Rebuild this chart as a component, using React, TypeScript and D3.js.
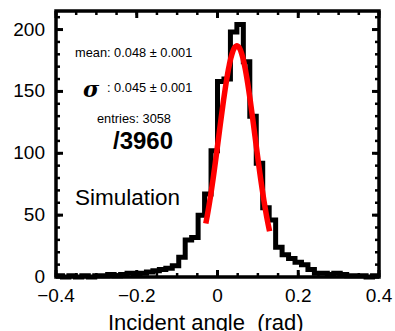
import React from "react";
import * as d3 from "d3";

// histogram bins (rad), counts
const binStart = -0.4;
const binWidth = 0.016;
const counts = [
  1, 0, 1, 0, 1, 0, 1, 1, 2, 1,
  2, 3, 2, 3, 4, 5, 6, 7, 9, 16,
  30, 32, 50, 67, 102, 158, 160, 198, 204, 174,
  130, 92, 56, 46, 24, 18, 15, 12, 10, 6,
  3, 3, 2, 3, 2, 1, 1, 1, 0, 1,
];

// gaussian fit
const fitMean = 0.048;
const fitSigma = 0.045;
const fitAmp = 187;
const fitRange = [-0.029, 0.13];

const xTicks = [-0.4, -0.2, 0, 0.2, 0.4];
const xTickLabels = ["\u22120.4", "\u22120.2", "0", "0.2", "0.4"];
const yTicks = [0, 50, 100, 150, 200];

const W = 395;
const H = 331;
const FONT = "'Liberation Sans', Arial, Helvetica, sans-serif";

const App = () => {
  const x = d3.scaleLinear().domain([-0.4, 0.4]).range([56, 379]);
  const y = d3.scaleLinear().domain([0, 215]).range([277, 11]);

  const stepPts: [number, number][] = counts.map((c, i) => [binStart + i * binWidth, c]);
  stepPts.push([binStart + counts.length * binWidth, counts[counts.length - 1]]);
  const histPath = d3
    .line<[number, number]>()
    .x((d) => x(d[0]))
    .y((d) => y(d[1]))
    .curve(d3.curveStepAfter)(stepPts);

  const fitX = d3.range(fitRange[0], fitRange[1] + 0.0001, 0.002);
  const fitPath = d3
    .line<number>()
    .x((d) => x(d))
    .y((d) => y(fitAmp * Math.exp(-((d - fitMean) ** 2) / (2 * fitSigma * fitSigma))))
    .curve(d3.curveBasis)(fitX);

  const xMinor = d3.range(-0.4, 0.4001, 0.05);
  const yMinor = d3.range(0, 215, 10);

  return (
    <svg width={W} height={H} style={{ position: "absolute", left: 0, top: 0 }} fontFamily={FONT}>
      <rect width={W} height={H} fill="#fff" />

      <path d={histPath ?? ""} fill="none" stroke="#000" strokeWidth={5} strokeLinejoin="miter" />
      <path d={fitPath ?? ""} fill="none" stroke="#ff0000" strokeWidth={5.5} strokeLinecap="butt" />

      {/* minor ticks */}
      {xMinor.map((v, i) => (
        <g key={"xm" + i} stroke="#000" strokeWidth={2.5}>
          <line x1={x(v)} x2={x(v)} y1={277} y2={273} />
          <line x1={x(v)} x2={x(v)} y1={11} y2={15} />
        </g>
      ))}
      {yMinor.map((v, i) => (
        <g key={"ym" + i} stroke="#000" strokeWidth={2.5}>
          <line x1={56} x2={60} y1={y(v)} y2={y(v)} />
          <line x1={379} x2={375} y1={y(v)} y2={y(v)} />
        </g>
      ))}
      {/* major ticks */}
      {xTicks.map((v, i) => (
        <g key={"xM" + i} stroke="#000" strokeWidth={3}>
          <line x1={x(v)} x2={x(v)} y1={277} y2={270} />
          <line x1={x(v)} x2={x(v)} y1={11} y2={18} />
        </g>
      ))}
      {yTicks.map((v, i) => (
        <g key={"yM" + i} stroke="#000" strokeWidth={3}>
          <line x1={56} x2={63} y1={y(v)} y2={y(v)} />
          <line x1={379} x2={372} y1={y(v)} y2={y(v)} />
        </g>
      ))}

      <rect x={56} y={11} width={323} height={266} fill="none" stroke="#000" strokeWidth={3.5} />

      {xTicks.map((v, i) => (
        <text key={"xl" + i} x={x(v)} y={302} textAnchor="middle" fontSize={19}>
          {xTickLabels[i]}
        </text>
      ))}
      {yTicks.map((v, i) => (
        <text key={"yl" + i} x={45} y={y(v) + 6} textAnchor="end" fontSize={19}>
          {v}
        </text>
      ))}

      <text x={108} y={330} fontSize={22} style={{ whiteSpace: "pre" }}>
        {"Incident angle  (rad)"}
      </text>

      <text x={75} y={57} fontSize={12.8}>mean: 0.048 ± 0.001</text>
      <text x={83} y={97} fontSize={22} fontStyle="italic" fontWeight="bold" fontFamily="'DejaVu Serif', serif">σ</text>
      <text x={107} y={92} fontSize={12.8}>: 0.045 ± 0.001</text>
      <text x={97} y={123} fontSize={12.8}>entries: 3058</text>
      <text x={113} y={149} fontSize={24} fontWeight="bold">/3960</text>
      <text x={75} y={205} fontSize={22.5}>Simulation</text>
    </svg>
  );
};

export default App;
